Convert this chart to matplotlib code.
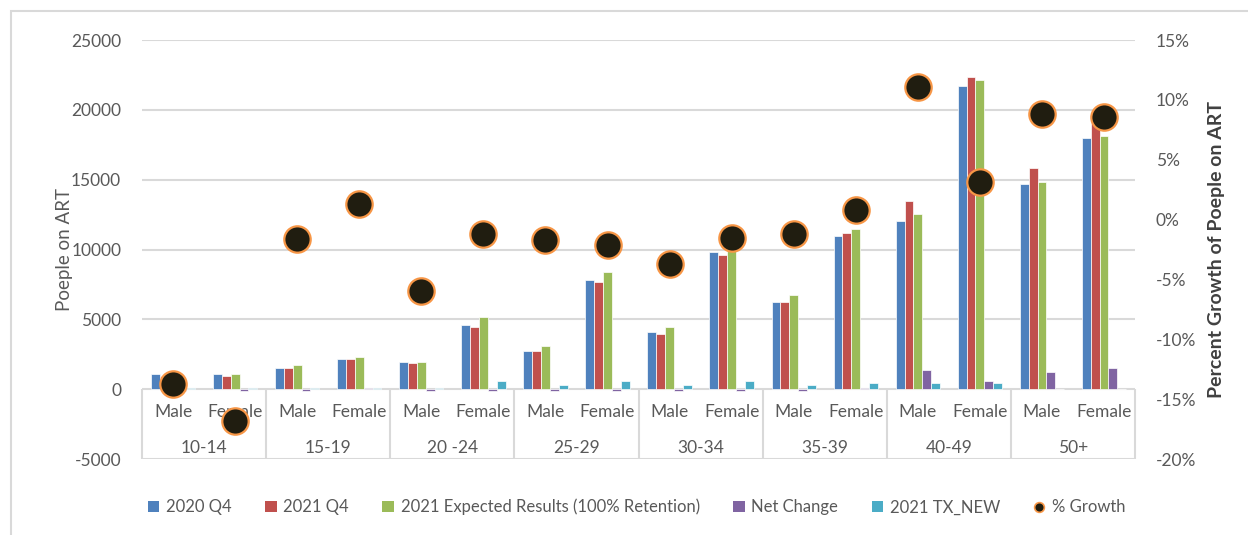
import matplotlib.pyplot as plt
import matplotlib.ticker as mticker
from matplotlib.lines import Line2D
from matplotlib.patches import Patch, Rectangle
import numpy as np

plt.rcParams['font.family'] = ['Lato', 'DejaVu Sans']
plt.rcParams['axes.unicode_minus'] = False

age_groups = ['10-14', '15-19', '20 -24', '25-29', '30-34', '35-39', '40-49', '50+']
sexes = ['Male', 'Female']

q4_2020 = [1070, 1070, 1525, 2150, 1980, 4580, 2740, 7800,
           4130, 9790, 6250, 10980, 12050, 21730, 14660, 18020]
q4_2021 = [930, 930, 1525, 2150, 1840, 4420, 2740, 7640,
           3960, 9620, 6250, 11150, 13440, 22320, 15870, 19300]
expected_2021 = [1000, 1070, 1700, 2290, 1980, 5180, 3060, 8400,
                 4440, 10150, 6710, 11460, 12530, 22120, 14800, 18160]
net_change = [-130, -130, -130, 60, -130, -130, -130, -130,
              -130, -130, -130, 120, 1360, 600, 1220, 1530]
tx_new = [50, 50, 50, 50, 50, 600, 290, 620,
          290, 620, 290, 450, 450, 450, 20, 20]
growth = [-13.7, -16.8, -1.6, 1.3, -6.0, -1.2, -1.7, -2.1,
          -3.7, -1.5, -1.2, 0.8, 11.1, 3.1, 8.8, 8.6]

series = [
    ('2020 Q4', q4_2020, '#4F81BD'),
    ('2021 Q4', q4_2021, '#C0504D'),
    ('2021 Expected Results (100% Retention)', expected_2021, '#9BBB59'),
    ('Net Change', net_change, '#8064A2'),
    ('2021 TX_NEW', tx_new, '#4BACC6'),
]

grey = '#595959'
grid = '#D9D9D9'

fig = plt.figure(figsize=(12.48, 5.35), dpi=100)
ax = fig.add_axes([0.1138, 0.142, 0.7957, 0.7832])
ax2 = ax.twinx()

x = np.arange(len(growth))
w = 1 / 7
for i, (name, vals, col) in enumerate(series):
    ax.bar(x + (i - 2) * w, vals, width=w, color=col, edgecolor='white',
           linewidth=0.5, zorder=3)

ax.set_xlim(-0.5, len(x) - 0.5)
ax.set_ylim(-5000, 25000)
ax.set_yticks(np.arange(-5000, 25001, 5000))
ax.yaxis.grid(True, color=grid, linewidth=1.5, zorder=0)
ax.set_axisbelow(True)
ax.set_xticks([])
for s in ax.spines.values():
    s.set_visible(False)
ax.tick_params(axis='y', length=0, labelsize=12.5, labelcolor=grey, pad=15)
ax.set_ylabel('Poeple on ART', fontsize=13.5, color=grey)
ax.yaxis.set_label_coords(-0.07, 0.5)

# category box under the zero line
ax.vlines(np.arange(-0.5, len(x), 2), -5000, 0, color=grid, linewidth=1.5,
          zorder=1, clip_on=False)
trans = ax.get_xaxis_transform()
for i in x:
    ax.text(i, 0.112, sexes[i % 2], transform=trans, ha='center', va='center',
            fontsize=12.5, color=grey)
for j, g in enumerate(age_groups):
    ax.text(2 * j + 0.5, 0.026, g, transform=trans, ha='center', va='center',
            fontsize=12.5, color=grey)

ax2.plot(x, np.array(growth) / 100, linestyle='none', marker='o',
         markersize=19, markerfacecolor='#201D10', markeredgecolor='#F79646',
         markeredgewidth=1.6, zorder=5)
ax2.set_ylim(-0.20, 0.15)
ax2.set_yticks(np.arange(-0.20, 0.1501, 0.05))
ax2.yaxis.set_major_formatter(
    mticker.FuncFormatter(lambda v, p: f'{int(round(v * 100))}%'))
for s in ax2.spines.values():
    s.set_visible(False)
ax2.tick_params(axis='y', length=0, labelsize=12.5, labelcolor=grey, pad=15)
ax2.set_ylabel('Percent Growth of Poeple on ART', fontsize=14, color='#404040',
               fontweight='bold')
ax2.yaxis.set_label_coords(1.073, 0.5)

handles = [Patch(facecolor=c, edgecolor='none') for _, _, c in series]
handles.append(Line2D([], [], linestyle='none', marker='o', markersize=7,
                      markerfacecolor='#201D10', markeredgecolor='#F79646',
                      markeredgewidth=1.2))
labels = [n for n, _, _ in series] + ['% Growth']
fig.legend(handles, labels, loc='center', bbox_to_anchor=(0.51, 0.052), ncol=6,
           frameon=False, fontsize=12, labelcolor=grey, handlelength=0.7,
           handleheight=0.7, handletextpad=0.4, columnspacing=2.0)

# chart area border
fig.patches.append(Rectangle((11 / 1248, -0.1), 1.2, 1.1 - 11 / 535,
                             transform=fig.transFigure, fill=False,
                             edgecolor=grid, linewidth=1.5))

fig.savefig('out.png', dpi=100)
